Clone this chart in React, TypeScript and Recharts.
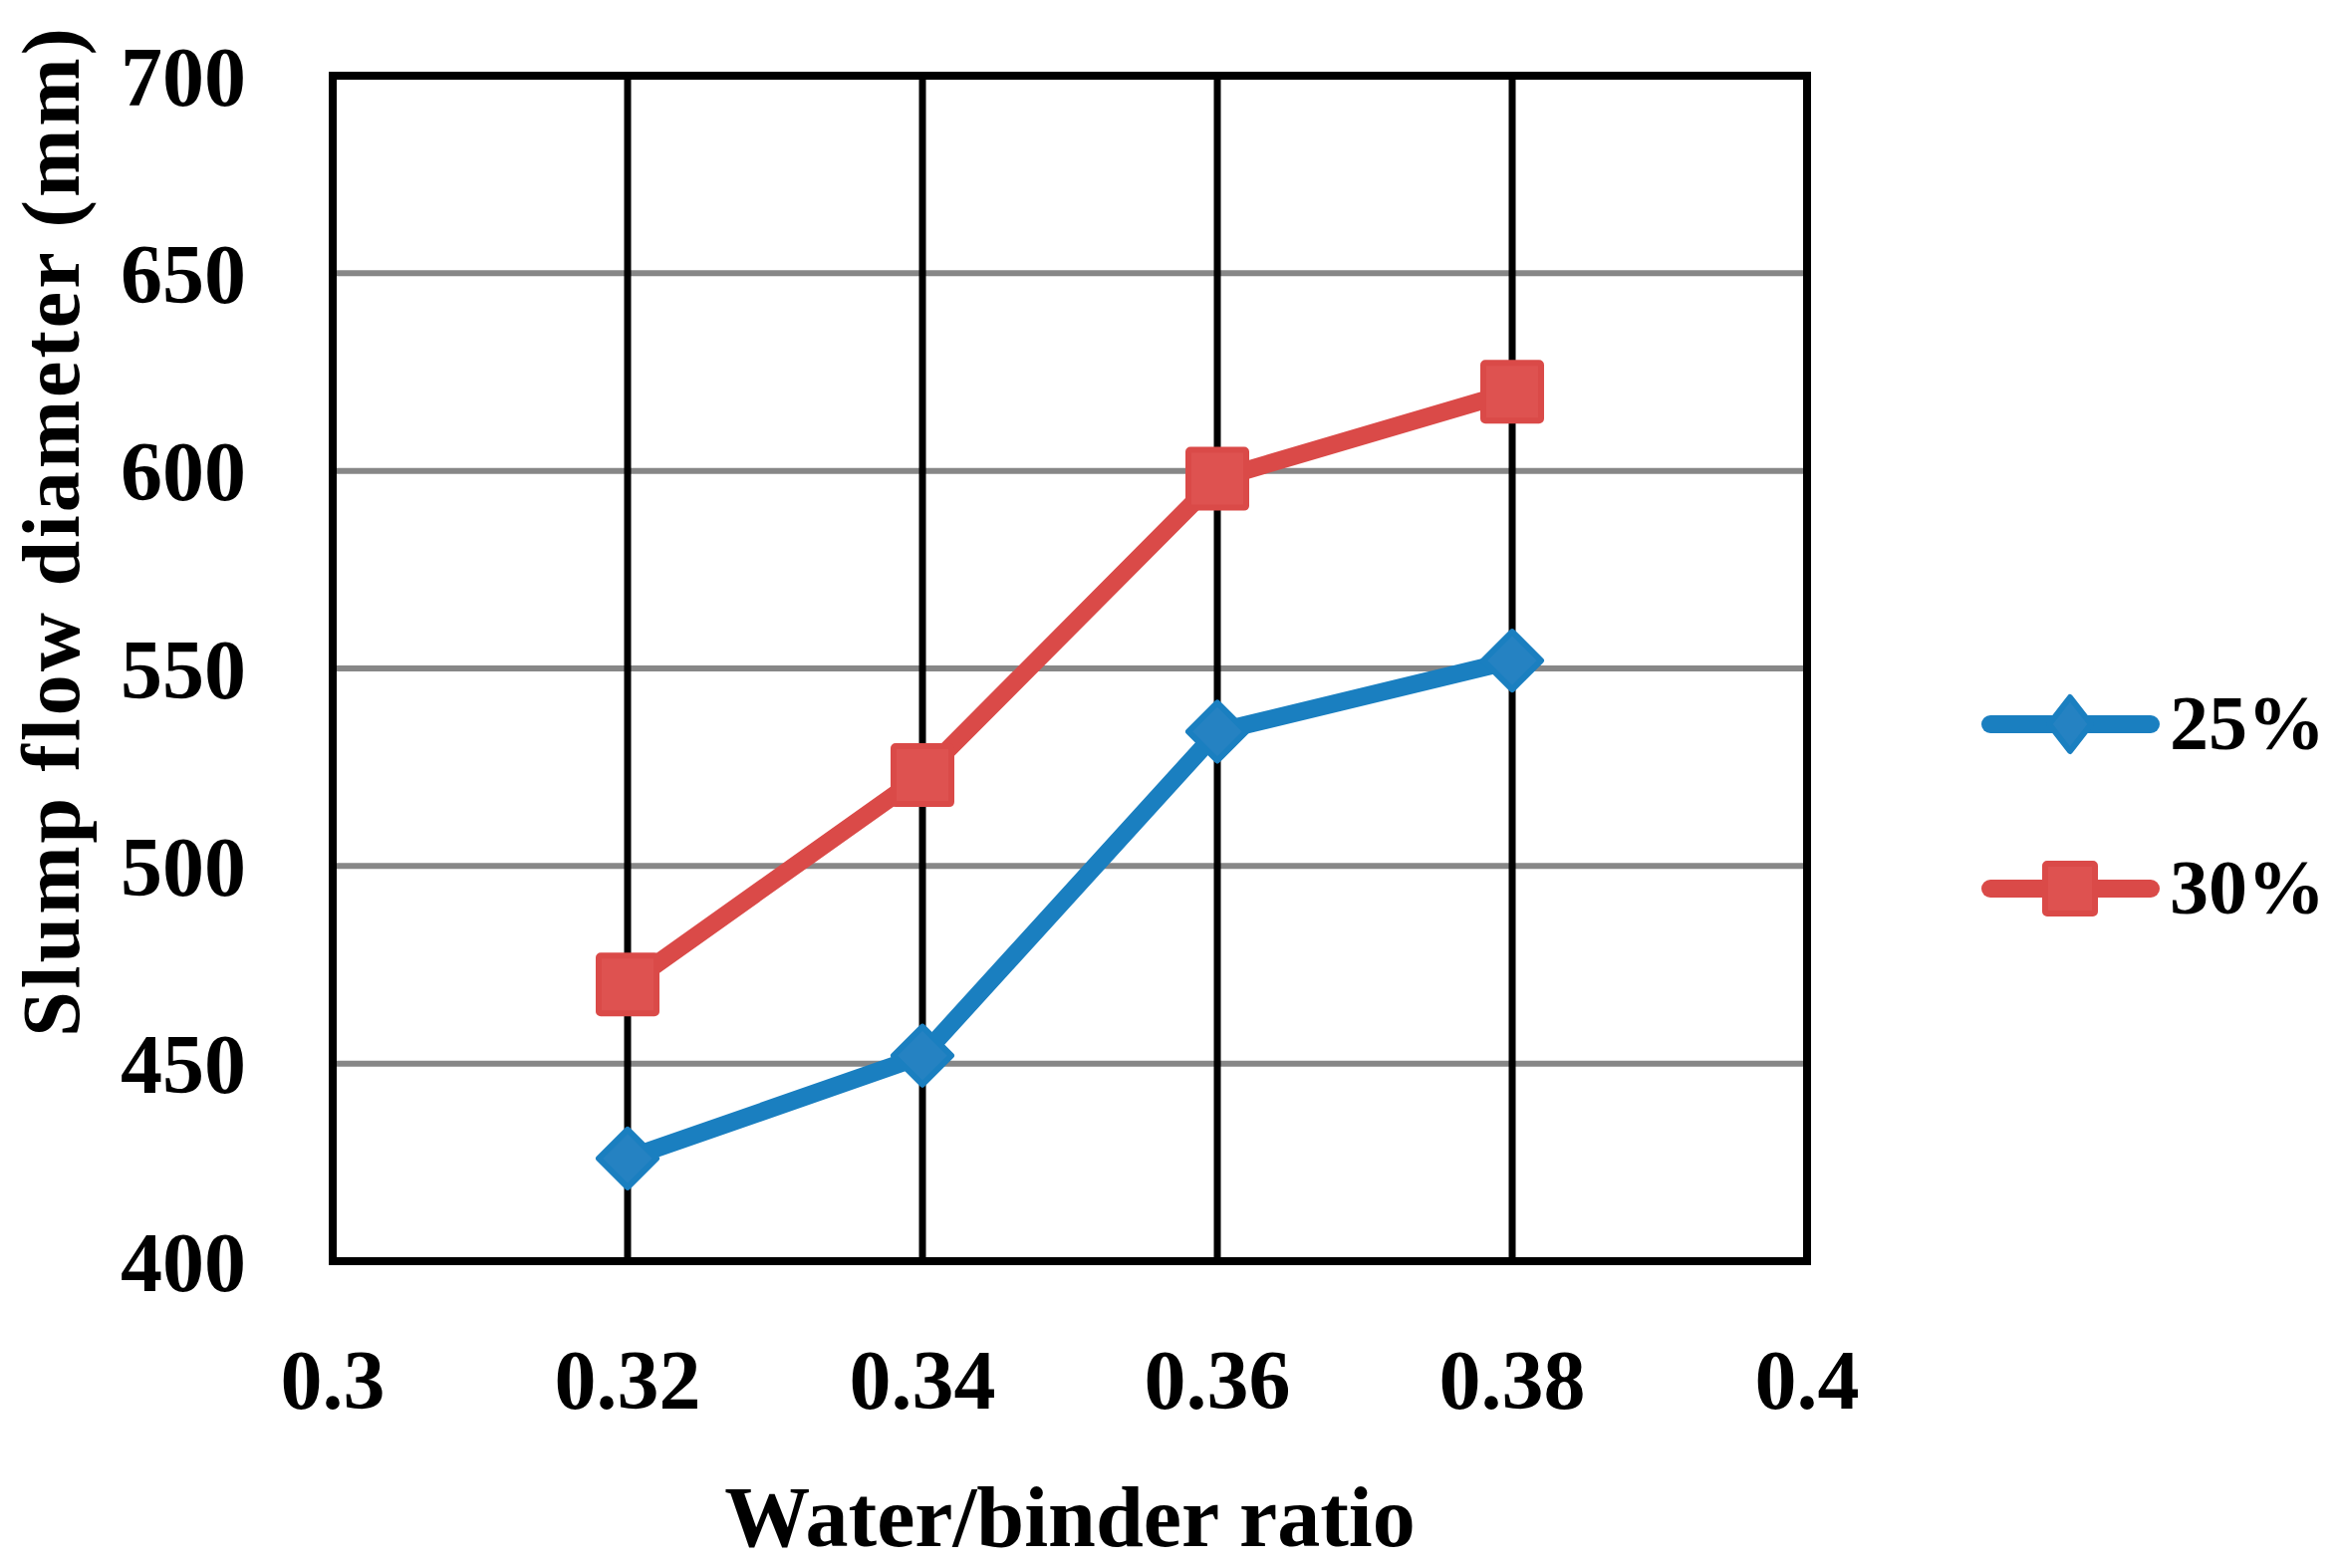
import React from "react";
import {
  LineChart,
  Line,
  XAxis,
  YAxis,
  CartesianGrid,
  ReferenceArea,
  Label,
} from "recharts";

const ratios = [0.32, 0.34, 0.36, 0.38];
const flow25 = [426, 452, 534, 552];
const flow30 = [470, 523, 598, 620];
const xTicks = [0.3, 0.32, 0.34, 0.36, 0.38, 0.4];
const yTicks = [400, 450, 500, 550, 600, 650, 700];
const seriesNames = ["25%", "30%"];

const data = ratios.map((r, i) => ({ ratio: r, s25: flow25[i], s30: flow30[i] }));

const FONT = "'Liberation Serif', 'Times New Roman', serif";
const BLUE = "#1a7fc0";
const BLUE_FILL = "#2582c2";
const RED = "#da4a48";
const RED_FILL = "#de5250";

function Diamond({ cx, cy, rx, ry, fill, stroke }: any) {
  return (
    <polygon
      points={`${cx},${cy - ry} ${cx + rx},${cy} ${cx},${cy + ry} ${cx - rx},${cy}`}
      fill={fill}
      stroke={stroke}
      strokeWidth={6}
      strokeLinejoin="round"
    />
  );
}

function Square({ cx, cy, s, fill, stroke }: any) {
  return (
    <rect
      x={cx - s / 2}
      y={cy - s / 2}
      width={s}
      height={s}
      rx={2}
      fill={fill}
      stroke={stroke}
      strokeWidth={6}
    />
  );
}

function LegendBox() {
  return (
    <div style={{ position: "absolute", left: 1980, top: 680 }}>
      <svg width={372} height={260}>
        <line x1={18} y1={47} x2={179} y2={47} stroke={BLUE} strokeWidth={18} strokeLinecap="round" />
        <Diamond cx={98} cy={47} rx={21} ry={27} fill={BLUE_FILL} stroke={BLUE} />
        <text x={198} y={72} fontFamily={FONT} fontWeight="bold" fontSize={78} fill="#000">
          {seriesNames[0]}
        </text>
        <line x1={18} y1={212} x2={179} y2={212} stroke={RED} strokeWidth={18} strokeLinecap="round" />
        <Square cx={98} cy={212} s={50} fill={RED_FILL} stroke={RED} />
        <text x={198} y={237} fontFamily={FONT} fontWeight="bold" fontSize={78} fill="#000">
          {seriesNames[1]}
        </text>
      </svg>
    </div>
  );
}

const tickStyle = { fontFamily: FONT, fontWeight: "bold", fontSize: 84, fill: "#000" };

export default function App() {
  return (
    <div style={{ position: "absolute", left: 0, top: 0, width: 2352, height: 1574, background: "#fff" }}>
      <LineChart
        width={2352}
        height={1574}
        data={data}
        margin={{ top: 76, right: 538, bottom: 0, left: 0 }}
      >
        <CartesianGrid horizontal vertical={false} stroke="#878787" strokeWidth={6} />
        <CartesianGrid horizontal={false} vertical stroke="#000" strokeWidth={7} />
        <XAxis
          type="number"
          dataKey="ratio"
          domain={[0.3, 0.4]}
          ticks={xTicks}
          tickFormatter={(v: number) => String(Number(v.toFixed(2)))}
          axisLine={false}
          tickLine={false}
          tickSize={0}
          tickMargin={88}
          height={308}
          tick={tickStyle}
          interval={0}
        >
          <Label
            content={({ viewBox }: any) => (
              <text
                x={viewBox.x + viewBox.width / 2}
                y={viewBox.y + 286}
                textAnchor="middle"
                fontFamily={FONT}
                fontWeight="bold"
                fontSize={86}
                fill="#000"
              >
                Water/binder ratio
              </text>
            )}
          />
        </XAxis>
        <YAxis
          type="number"
          domain={[400, 700]}
          ticks={yTicks}
          axisLine={false}
          tickLine={false}
          tickSize={0}
          tickMargin={87}
          width={334}
          tick={tickStyle}
          interval={0}
        >
          <Label
            content={({ viewBox }: any) => {
              const x = viewBox.x + 79;
              const y = 533;
              return (
                <text
                  x={x}
                  y={y}
                  transform={`rotate(-90, ${x}, ${y})`}
                  textAnchor="middle"
                  fontFamily={FONT}
                  fontWeight="bold"
                  fontSize={82}
                  letterSpacing={3}
                  fill="#000"
                >
                  Slump flow diameter (mm)
                </text>
              );
            }}
          />
        </YAxis>
        <ReferenceArea
          x1={0.3}
          x2={0.4}
          y1={400}
          y2={700}
          fill="none"
          fillOpacity={0}
          stroke="#000"
          strokeWidth={8}
        />
        <Line
          dataKey="s25"
          name={seriesNames[0]}
          stroke={BLUE}
          strokeWidth={18}
          strokeLinejoin="round"
          isAnimationActive={false}
          dot={(p: any) => (
            <Diamond key={`d25-${p.index}`} cx={p.cx} cy={p.cy} rx={29} ry={29} fill={BLUE_FILL} stroke={BLUE} />
          )}
        />
        <Line
          dataKey="s30"
          name={seriesNames[1]}
          stroke={RED}
          strokeWidth={18}
          strokeLinejoin="round"
          isAnimationActive={false}
          dot={(p: any) => (
            <Square key={`d30-${p.index}`} cx={p.cx} cy={p.cy} s={58} fill={RED_FILL} stroke={RED} />
          )}
        />
      </LineChart>
      <LegendBox />
    </div>
  );
}
